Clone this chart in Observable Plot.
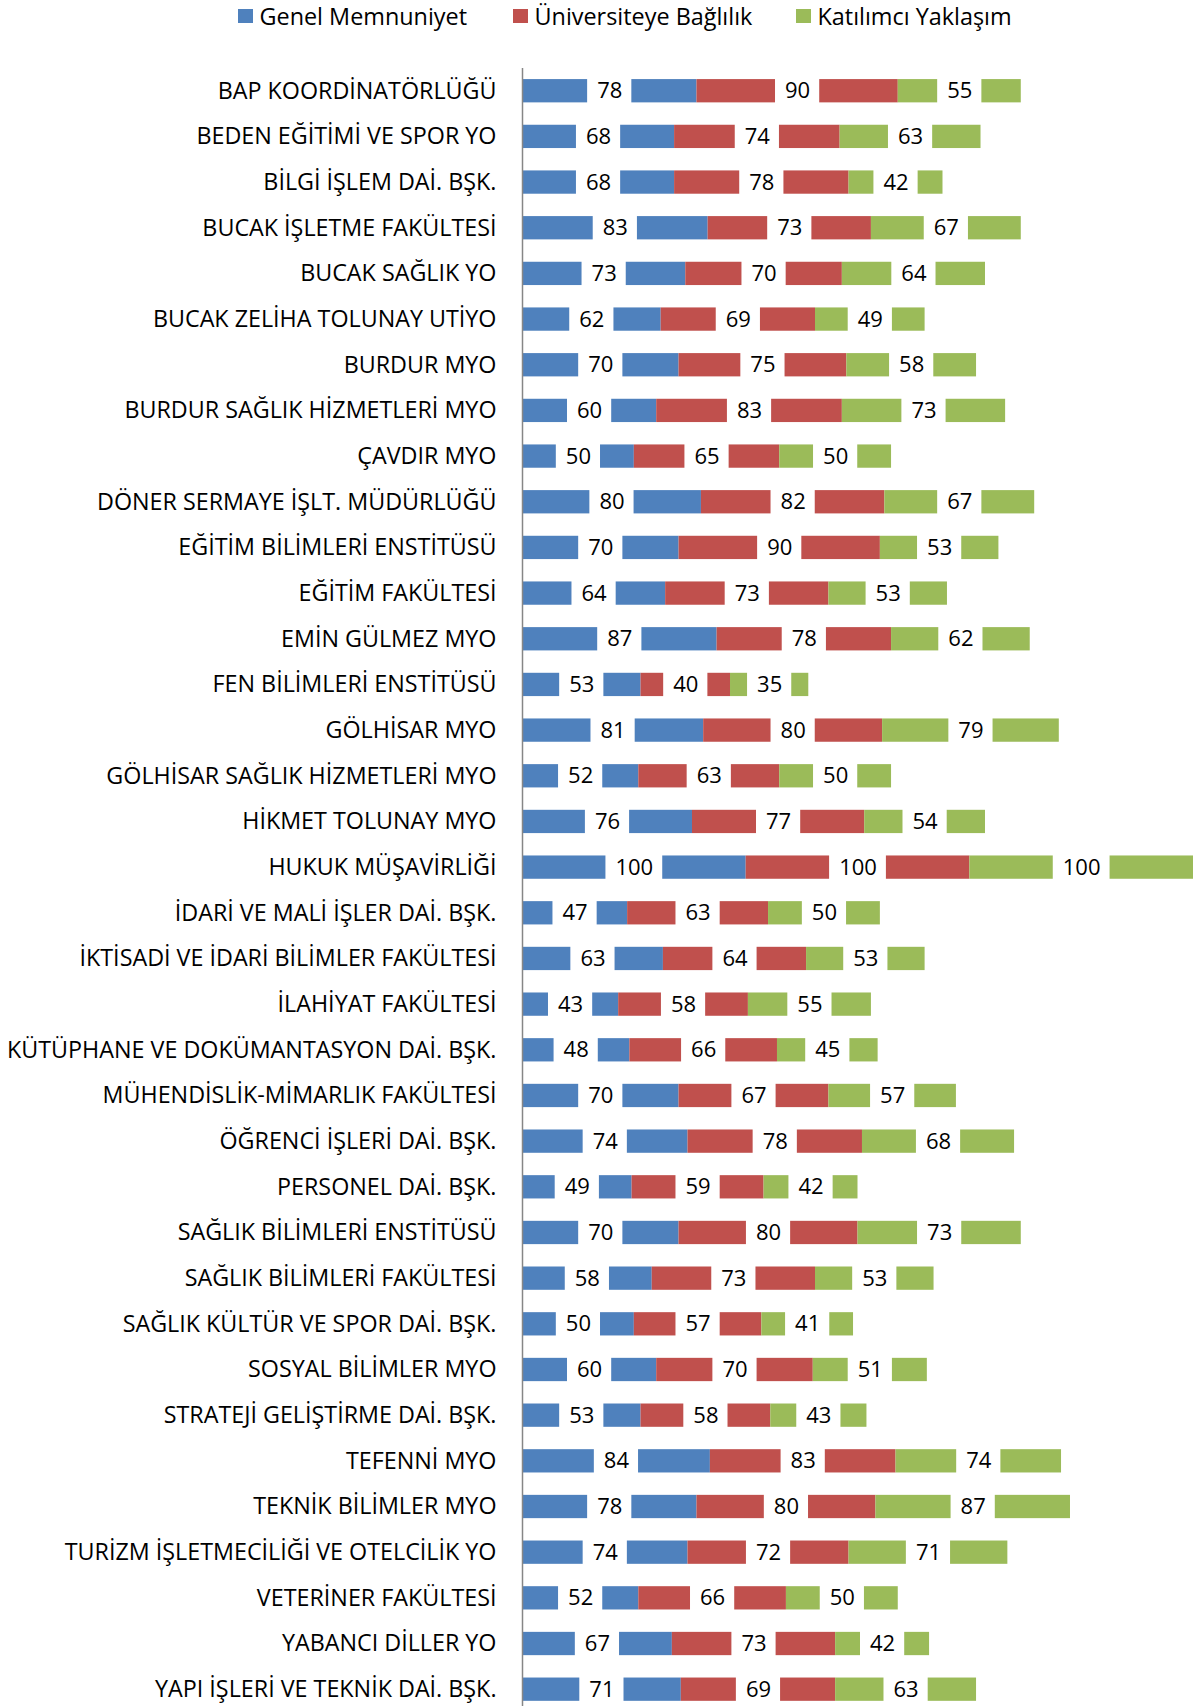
<!DOCTYPE html>
<html><head><meta charset="utf-8">
<script src="https://cdn.jsdelivr.net/npm/d3@7"></script>
<script src="https://cdn.jsdelivr.net/npm/@observablehq/plot@0.6"></script>
<style>
body{margin:0;background:#fff;font-family:"Open Sans",sans-serif;}
#wrap{position:relative;width:1194px;height:1706px;overflow:hidden}
#wrap svg{position:absolute;left:0;top:0}
.lg{position:absolute;top:3px;height:26px;line-height:26px;display:flex;align-items:center;font-size:23.4px;color:#000;white-space:nowrap;z-index:2}
.lg span{line-height:26px}
.sw{width:14.5px;height:14.5px;margin-right:7px;flex:none}
</style></head><body><div id="wrap"></div>
<script>
const categories = [
  "BAP KOORDİNATÖRLÜĞÜ","BEDEN EĞİTİMİ VE SPOR YO","BİLGİ İŞLEM DAİ. BŞK.","BUCAK İŞLETME FAKÜLTESİ",
  "BUCAK SAĞLIK YO","BUCAK ZELİHA TOLUNAY UTİYO","BURDUR MYO","BURDUR SAĞLIK HİZMETLERİ MYO",
  "ÇAVDIR MYO","DÖNER SERMAYE İŞLT. MÜDÜRLÜĞÜ","EĞİTİM BİLİMLERİ ENSTİTÜSÜ","EĞİTİM FAKÜLTESİ",
  "EMİN GÜLMEZ MYO","FEN BİLİMLERİ ENSTİTÜSÜ","GÖLHİSAR MYO","GÖLHİSAR SAĞLIK HİZMETLERİ MYO",
  "HİKMET TOLUNAY MYO","HUKUK MÜŞAVİRLİĞİ","İDARİ VE MALİ İŞLER DAİ. BŞK.","İKTİSADİ VE İDARİ BİLİMLER FAKÜLTESİ",
  "İLAHİYAT FAKÜLTESİ","KÜTÜPHANE VE DOKÜMANTASYON DAİ. BŞK.","MÜHENDİSLİK-MİMARLIK FAKÜLTESİ","ÖĞRENCİ İŞLERİ DAİ. BŞK.",
  "PERSONEL DAİ. BŞK.","SAĞLIK BİLİMLERİ ENSTİTÜSÜ","SAĞLIK BİLİMLERİ FAKÜLTESİ","SAĞLIK KÜLTÜR VE SPOR DAİ. BŞK.",
  "SOSYAL BİLİMLER MYO","STRATEJİ GELİŞTİRME DAİ. BŞK.","TEFENNİ MYO","TEKNİK BİLİMLER MYO",
  "TURİZM İŞLETMECİLİĞİ VE OTELCİLİK YO","VETERİNER FAKÜLTESİ","YABANCI DİLLER YO","YAPI İŞLERİ VE TEKNİK DAİ. BŞK."
];
const genelMemnuniyet = [78,68,68,83,73,62,70,60,50,80,70,64,87,53,81,52,76,100,47,63,43,48,70,74,49,70,58,50,60,53,84,78,74,52,67,71];
const universiteyeBaglilik = [90,74,78,73,70,69,75,83,65,82,90,73,78,40,80,63,77,100,63,64,58,66,67,78,59,80,73,57,70,58,83,80,72,66,73,69];
const katilimciYaklasim = [55,63,42,67,64,49,58,73,50,67,53,53,62,35,79,50,54,100,50,53,55,45,57,68,42,73,53,41,51,43,74,87,71,50,42,63];
const seriesNames = ["Genel Memnuniyet","Üniversiteye Bağlılık","Katılımcı Yaklaşım"];
const seriesColors = ["#4F81BD","#C0504D","#9BBB59"];
const xDomain = [0, 300];

const W = 1194, H = 1706;
const xRange = [522, 1193];
const pxPerUnit = (xRange[1]-xRange[0])/(xDomain[1]-xDomain[0]);
const seriesValues = [genelMemnuniyet, universiteyeBaglilik, katilimciYaklasim];

const rows = [];
categories.forEach((name, i) => {
  let start = 0;
  seriesValues.forEach((vals, s) => {
    const v = vals[i];
    const label = String(v);
    const hw = (label.length*12.6 + 19)/2/pxPerUnit;
    rows.push({name, series: seriesNames[s], value: v, x1: start, x2: start+v, mid: start+v/2, label, hw});
    start += v;
  });
});

const chart = Plot.plot({
  width: W, height: H,
  marginTop: 68, marginBottom: 0, marginLeft: xRange[0], marginRight: W - xRange[1],
  style: {fontFamily: "'Open Sans', sans-serif", color: "#000", background: "#fff"},
  x: {domain: xDomain, range: xRange, axis: null, round: false},
  y: {domain: categories, range: [56.7, 1723.2], padding: 0.49, round: false, axis: null, label: null},
  color: {domain: seriesNames, range: seriesColors},
  marks: [
    Plot.barX(rows, {x1: "x1", x2: "x2", y: "name", fill: "series"}),
    Plot.barX(rows, {x1: d => d.mid - d.hw, x2: d => d.mid + d.hw, y: "name", fill: "white", insetTop: -1.5, insetBottom: -1.5}),
    Plot.text(rows, {x: "mid", y: "name", text: "label", fontSize: 22, fill: "#000"}),
    Plot.ruleX([0], {stroke: "#868686", strokeWidth: 1.5}),
    Plot.axisY({tickSize: 0, tickPadding: 26, fontSize: 23.3, fill: "#000", textAnchor: "end", label: null})
  ]
});
const wrap = document.getElementById("wrap");
wrap.appendChild(chart);

const legendLeft = [238, 513, 796];
seriesNames.forEach((n, i) => {
  const d = document.createElement("div");
  d.className = "lg";
  d.style.left = legendLeft[i] + "px";
  d.innerHTML = `<span class="sw" style="background:${seriesColors[i]}"></span><span>${n}</span>`;
  wrap.appendChild(d);
});
</script></body></html>
